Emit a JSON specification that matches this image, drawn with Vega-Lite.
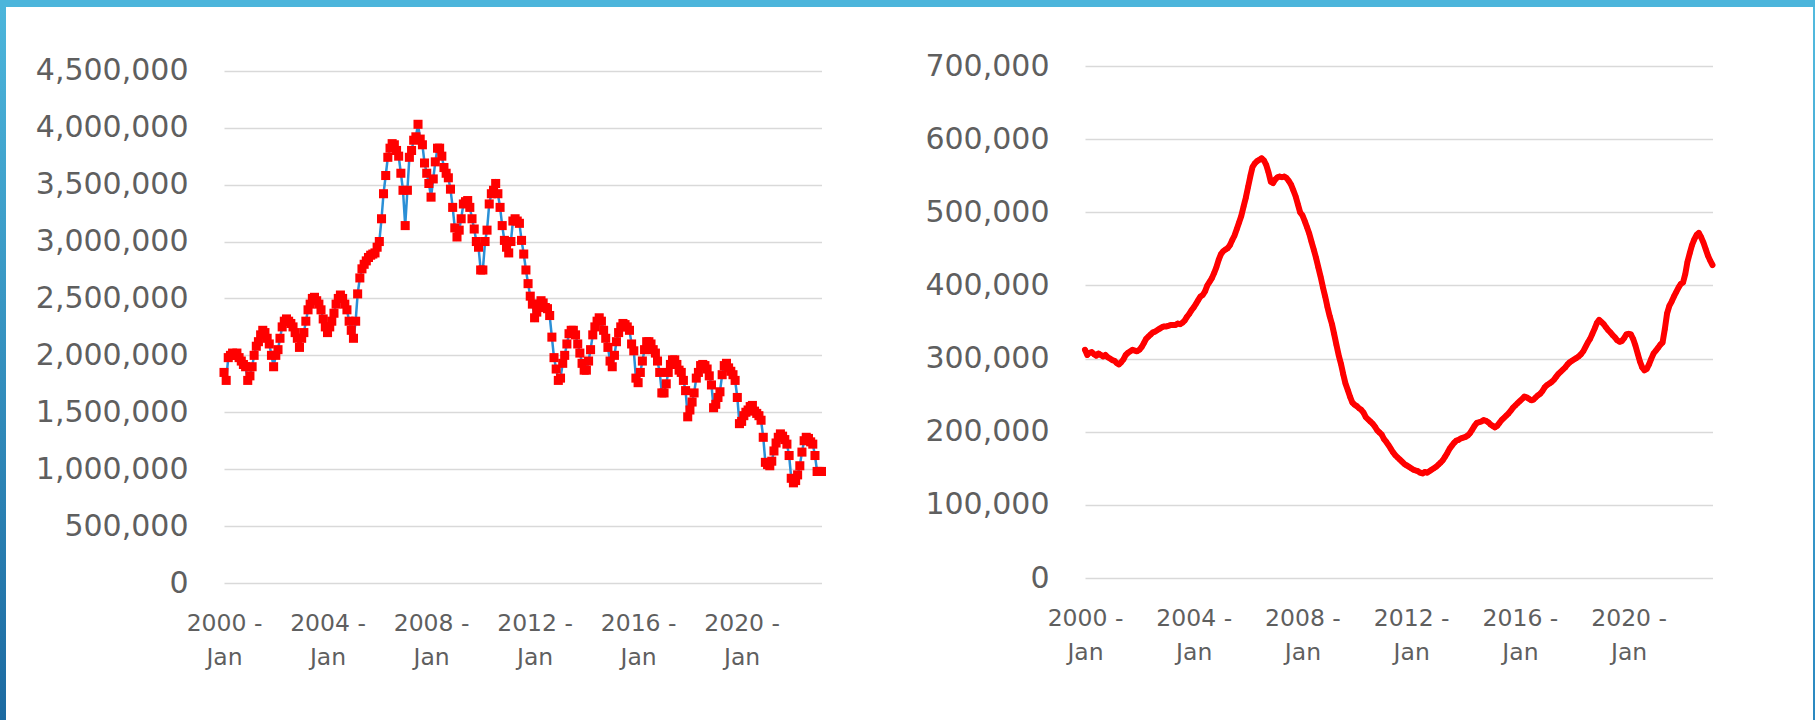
{
  "$schema": "https://vega.github.io/schema/vega-lite/v6.json",
  "padding": 0,
  "background": "white",
  "spacing": 0,
  "config": {
    "view": {"stroke": null},
    "font": "DejaVu Sans",
    "axis": {
      "labelFont": "DejaVu Sans",
      "labelColor": "#5f5f5f",
      "domain": false,
      "ticks": false,
      "title": null
    }
  },
  "datasets": {
    "inventory": [
      {"month":"2000-01","value":1850000},{"month":"2000-02","value":1780000},{"month":"2000-03","value":1980000},{"month":"2000-04","value":2000000},{"month":"2000-05","value":2020000},{"month":"2000-06","value":2000000},{"month":"2000-07","value":2020000},{"month":"2000-08","value":1980000},{"month":"2000-09","value":1950000},{"month":"2000-10","value":1920000},{"month":"2000-11","value":1900000},{"month":"2000-12","value":1780000},
      {"month":"2001-01","value":1820000},{"month":"2001-02","value":1900000},{"month":"2001-03","value":2000000},{"month":"2001-04","value":2080000},{"month":"2001-05","value":2120000},{"month":"2001-06","value":2180000},{"month":"2001-07","value":2220000},{"month":"2001-08","value":2200000},{"month":"2001-09","value":2150000},{"month":"2001-10","value":2100000},{"month":"2001-11","value":2000000},{"month":"2001-12","value":1900000},
      {"month":"2002-01","value":2000000},{"month":"2002-02","value":2050000},{"month":"2002-03","value":2150000},{"month":"2002-04","value":2250000},{"month":"2002-05","value":2300000},{"month":"2002-06","value":2320000},{"month":"2002-07","value":2300000},{"month":"2002-08","value":2280000},{"month":"2002-09","value":2250000},{"month":"2002-10","value":2200000},{"month":"2002-11","value":2150000},{"month":"2002-12","value":2070000},
      {"month":"2003-01","value":2150000},{"month":"2003-02","value":2200000},{"month":"2003-03","value":2300000},{"month":"2003-04","value":2400000},{"month":"2003-05","value":2450000},{"month":"2003-06","value":2500000},{"month":"2003-07","value":2510000},{"month":"2003-08","value":2480000},{"month":"2003-09","value":2450000},{"month":"2003-10","value":2400000},{"month":"2003-11","value":2320000},{"month":"2003-12","value":2250000},
      {"month":"2004-01","value":2200000},{"month":"2004-02","value":2250000},{"month":"2004-03","value":2300000},{"month":"2004-04","value":2370000},{"month":"2004-05","value":2450000},{"month":"2004-06","value":2500000},{"month":"2004-07","value":2530000},{"month":"2004-08","value":2500000},{"month":"2004-09","value":2450000},{"month":"2004-10","value":2400000},{"month":"2004-11","value":2300000},{"month":"2004-12","value":2220000},
      {"month":"2005-01","value":2150000},{"month":"2005-02","value":2300000},{"month":"2005-03","value":2540000},{"month":"2005-04","value":2680000},{"month":"2005-05","value":2760000},{"month":"2005-06","value":2800000},{"month":"2005-07","value":2830000},{"month":"2005-08","value":2860000},{"month":"2005-09","value":2880000},{"month":"2005-10","value":2890000},{"month":"2005-11","value":2900000},{"month":"2005-12","value":2950000},
      {"month":"2006-01","value":3000000},{"month":"2006-02","value":3200000},{"month":"2006-03","value":3420000},{"month":"2006-04","value":3580000},{"month":"2006-05","value":3740000},{"month":"2006-06","value":3820000},{"month":"2006-07","value":3860000},{"month":"2006-08","value":3850000},{"month":"2006-09","value":3800000},{"month":"2006-10","value":3750000},{"month":"2006-11","value":3600000},{"month":"2006-12","value":3450000},
      {"month":"2007-01","value":3140000},{"month":"2007-02","value":3450000},{"month":"2007-03","value":3740000},{"month":"2007-04","value":3800000},{"month":"2007-05","value":3890000},{"month":"2007-06","value":3920000},{"month":"2007-07","value":4030000},{"month":"2007-08","value":3900000},{"month":"2007-09","value":3850000},{"month":"2007-10","value":3690000},{"month":"2007-11","value":3600000},{"month":"2007-12","value":3510000},
      {"month":"2008-01","value":3390000},{"month":"2008-02","value":3550000},{"month":"2008-03","value":3700000},{"month":"2008-04","value":3820000},{"month":"2008-05","value":3820000},{"month":"2008-06","value":3750000},{"month":"2008-07","value":3650000},{"month":"2008-08","value":3600000},{"month":"2008-09","value":3560000},{"month":"2008-10","value":3460000},{"month":"2008-11","value":3300000},{"month":"2008-12","value":3120000},
      {"month":"2009-01","value":3040000},{"month":"2009-02","value":3100000},{"month":"2009-03","value":3200000},{"month":"2009-04","value":3330000},{"month":"2009-05","value":3350000},{"month":"2009-06","value":3360000},{"month":"2009-07","value":3300000},{"month":"2009-08","value":3200000},{"month":"2009-09","value":3110000},{"month":"2009-10","value":3000000},{"month":"2009-11","value":2950000},{"month":"2009-12","value":2750000},
      {"month":"2010-01","value":2750000},{"month":"2010-02","value":3000000},{"month":"2010-03","value":3100000},{"month":"2010-04","value":3330000},{"month":"2010-05","value":3420000},{"month":"2010-06","value":3450000},{"month":"2010-07","value":3510000},{"month":"2010-08","value":3420000},{"month":"2010-09","value":3300000},{"month":"2010-10","value":3140000},{"month":"2010-11","value":3010000},{"month":"2010-12","value":2950000},
      {"month":"2011-01","value":2900000},{"month":"2011-02","value":3000000},{"month":"2011-03","value":3180000},{"month":"2011-04","value":3200000},{"month":"2011-05","value":3180000},{"month":"2011-06","value":3160000},{"month":"2011-07","value":3010000},{"month":"2011-08","value":2890000},{"month":"2011-09","value":2750000},{"month":"2011-10","value":2630000},{"month":"2011-11","value":2520000},{"month":"2011-12","value":2450000},
      {"month":"2012-01","value":2330000},{"month":"2012-02","value":2380000},{"month":"2012-03","value":2450000},{"month":"2012-04","value":2480000},{"month":"2012-05","value":2460000},{"month":"2012-06","value":2420000},{"month":"2012-07","value":2410000},{"month":"2012-08","value":2350000},{"month":"2012-09","value":2160000},{"month":"2012-10","value":1980000},{"month":"2012-11","value":1880000},{"month":"2012-12","value":1780000},
      {"month":"2013-01","value":1800000},{"month":"2013-02","value":1930000},{"month":"2013-03","value":2000000},{"month":"2013-04","value":2100000},{"month":"2013-05","value":2190000},{"month":"2013-06","value":2220000},{"month":"2013-07","value":2220000},{"month":"2013-08","value":2180000},{"month":"2013-09","value":2100000},{"month":"2013-10","value":2020000},{"month":"2013-11","value":1930000},{"month":"2013-12","value":1870000},
      {"month":"2014-01","value":1870000},{"month":"2014-02","value":1950000},{"month":"2014-03","value":2050000},{"month":"2014-04","value":2180000},{"month":"2014-05","value":2250000},{"month":"2014-06","value":2300000},{"month":"2014-07","value":2330000},{"month":"2014-08","value":2300000},{"month":"2014-09","value":2220000},{"month":"2014-10","value":2150000},{"month":"2014-11","value":2070000},{"month":"2014-12","value":1950000},
      {"month":"2015-01","value":1900000},{"month":"2015-02","value":2000000},{"month":"2015-03","value":2120000},{"month":"2015-04","value":2200000},{"month":"2015-05","value":2250000},{"month":"2015-06","value":2280000},{"month":"2015-07","value":2270000},{"month":"2015-08","value":2250000},{"month":"2015-09","value":2220000},{"month":"2015-10","value":2100000},{"month":"2015-11","value":2040000},{"month":"2015-12","value":1800000},
      {"month":"2016-01","value":1760000},{"month":"2016-02","value":1850000},{"month":"2016-03","value":1950000},{"month":"2016-04","value":2050000},{"month":"2016-05","value":2120000},{"month":"2016-06","value":2120000},{"month":"2016-07","value":2100000},{"month":"2016-08","value":2050000},{"month":"2016-09","value":2020000},{"month":"2016-10","value":1950000},{"month":"2016-11","value":1850000},{"month":"2016-12","value":1670000},
      {"month":"2017-01","value":1670000},{"month":"2017-02","value":1750000},{"month":"2017-03","value":1850000},{"month":"2017-04","value":1920000},{"month":"2017-05","value":1960000},{"month":"2017-06","value":1960000},{"month":"2017-07","value":1920000},{"month":"2017-08","value":1870000},{"month":"2017-09","value":1850000},{"month":"2017-10","value":1780000},{"month":"2017-11","value":1690000},{"month":"2017-12","value":1460000},
      {"month":"2018-01","value":1520000},{"month":"2018-02","value":1590000},{"month":"2018-03","value":1670000},{"month":"2018-04","value":1800000},{"month":"2018-05","value":1850000},{"month":"2018-06","value":1910000},{"month":"2018-07","value":1920000},{"month":"2018-08","value":1910000},{"month":"2018-09","value":1880000},{"month":"2018-10","value":1820000},{"month":"2018-11","value":1740000},{"month":"2018-12","value":1540000},
      {"month":"2019-01","value":1570000},{"month":"2019-02","value":1630000},{"month":"2019-03","value":1680000},{"month":"2019-04","value":1830000},{"month":"2019-05","value":1910000},{"month":"2019-06","value":1930000},{"month":"2019-07","value":1890000},{"month":"2019-08","value":1860000},{"month":"2019-09","value":1830000},{"month":"2019-10","value":1780000},{"month":"2019-11","value":1630000},{"month":"2019-12","value":1400000},
      {"month":"2020-01","value":1420000},{"month":"2020-02","value":1470000},{"month":"2020-03","value":1500000},{"month":"2020-04","value":1520000},{"month":"2020-05","value":1550000},{"month":"2020-06","value":1560000},{"month":"2020-07","value":1510000},{"month":"2020-08","value":1490000},{"month":"2020-09","value":1470000},{"month":"2020-10","value":1430000},{"month":"2020-11","value":1280000},{"month":"2020-12","value":1060000},
      {"month":"2021-01","value":1040000},{"month":"2021-02","value":1030000},{"month":"2021-03","value":1070000},{"month":"2021-04","value":1160000},{"month":"2021-05","value":1230000},{"month":"2021-06","value":1280000},{"month":"2021-07","value":1310000},{"month":"2021-08","value":1290000},{"month":"2021-09","value":1260000},{"month":"2021-10","value":1220000},{"month":"2021-11","value":1120000},{"month":"2021-12","value":920000},
      {"month":"2022-01","value":880000},{"month":"2022-02","value":900000},{"month":"2022-03","value":950000},{"month":"2022-04","value":1030000},{"month":"2022-05","value":1150000},{"month":"2022-06","value":1250000},{"month":"2022-07","value":1280000},{"month":"2022-08","value":1270000},{"month":"2022-09","value":1240000},{"month":"2022-10","value":1220000},{"month":"2022-11","value":1120000},{"month":"2022-12","value":980000},
      {"month":"2023-01","value":980000},{"month":"2023-02","value":980000}
    ],
    "forSale": [
      {"month":"2000-01","value":312000},{"month":"2000-02","value":305000},{"month":"2000-03","value":308000},{"month":"2000-04","value":309000},{"month":"2000-05","value":306000},{"month":"2000-06","value":304000},{"month":"2000-07","value":307000},{"month":"2000-08","value":305000},{"month":"2000-09","value":303000},{"month":"2000-10","value":305000},{"month":"2000-11","value":302000},{"month":"2000-12","value":300000},
      {"month":"2001-01","value":298000},{"month":"2001-02","value":297000},{"month":"2001-03","value":294000},{"month":"2001-04","value":292000},{"month":"2001-05","value":295000},{"month":"2001-06","value":299000},{"month":"2001-07","value":305000},{"month":"2001-08","value":308000},{"month":"2001-09","value":310000},{"month":"2001-10","value":312000},{"month":"2001-11","value":311000},{"month":"2001-12","value":310000},
      {"month":"2002-01","value":312000},{"month":"2002-02","value":316000},{"month":"2002-03","value":321000},{"month":"2002-04","value":327000},{"month":"2002-05","value":330000},{"month":"2002-06","value":333000},{"month":"2002-07","value":336000},{"month":"2002-08","value":337000},{"month":"2002-09","value":339000},{"month":"2002-10","value":341000},{"month":"2002-11","value":343000},{"month":"2002-12","value":344000},
      {"month":"2003-01","value":344000},{"month":"2003-02","value":345000},{"month":"2003-03","value":346000},{"month":"2003-04","value":346000},{"month":"2003-05","value":346000},{"month":"2003-06","value":348000},{"month":"2003-07","value":347000},{"month":"2003-08","value":349000},{"month":"2003-09","value":352000},{"month":"2003-10","value":357000},{"month":"2003-11","value":361000},{"month":"2003-12","value":366000},
      {"month":"2004-01","value":370000},{"month":"2004-02","value":375000},{"month":"2004-03","value":380000},{"month":"2004-04","value":385000},{"month":"2004-05","value":387000},{"month":"2004-06","value":392000},{"month":"2004-07","value":400000},{"month":"2004-08","value":405000},{"month":"2004-09","value":410000},{"month":"2004-10","value":417000},{"month":"2004-11","value":425000},{"month":"2004-12","value":435000},
      {"month":"2005-01","value":443000},{"month":"2005-02","value":447000},{"month":"2005-03","value":449000},{"month":"2005-04","value":451000},{"month":"2005-05","value":455000},{"month":"2005-06","value":462000},{"month":"2005-07","value":468000},{"month":"2005-08","value":477000},{"month":"2005-09","value":486000},{"month":"2005-10","value":495000},{"month":"2005-11","value":508000},{"month":"2005-12","value":520000},
      {"month":"2006-01","value":535000},{"month":"2006-02","value":550000},{"month":"2006-03","value":562000},{"month":"2006-04","value":567000},{"month":"2006-05","value":570000},{"month":"2006-06","value":572000},{"month":"2006-07","value":574000},{"month":"2006-08","value":571000},{"month":"2006-09","value":565000},{"month":"2006-10","value":555000},{"month":"2006-11","value":542000},{"month":"2006-12","value":540000},
      {"month":"2007-01","value":545000},{"month":"2007-02","value":548000},{"month":"2007-03","value":549000},{"month":"2007-04","value":548000},{"month":"2007-05","value":549000},{"month":"2007-06","value":547000},{"month":"2007-07","value":543000},{"month":"2007-08","value":538000},{"month":"2007-09","value":530000},{"month":"2007-10","value":522000},{"month":"2007-11","value":511000},{"month":"2007-12","value":500000},
      {"month":"2008-01","value":496000},{"month":"2008-02","value":488000},{"month":"2008-03","value":480000},{"month":"2008-04","value":471000},{"month":"2008-05","value":460000},{"month":"2008-06","value":449000},{"month":"2008-07","value":438000},{"month":"2008-08","value":425000},{"month":"2008-09","value":412000},{"month":"2008-10","value":398000},{"month":"2008-11","value":385000},{"month":"2008-12","value":371000},
      {"month":"2009-01","value":358000},{"month":"2009-02","value":347000},{"month":"2009-03","value":334000},{"month":"2009-04","value":319000},{"month":"2009-05","value":305000},{"month":"2009-06","value":293000},{"month":"2009-07","value":279000},{"month":"2009-08","value":266000},{"month":"2009-09","value":257000},{"month":"2009-10","value":248000},{"month":"2009-11","value":240000},{"month":"2009-12","value":237000},
      {"month":"2010-01","value":235000},{"month":"2010-02","value":232000},{"month":"2010-03","value":230000},{"month":"2010-04","value":226000},{"month":"2010-05","value":220000},{"month":"2010-06","value":217000},{"month":"2010-07","value":214000},{"month":"2010-08","value":211000},{"month":"2010-09","value":207000},{"month":"2010-10","value":202000},{"month":"2010-11","value":199000},{"month":"2010-12","value":196000},
      {"month":"2011-01","value":190000},{"month":"2011-02","value":186000},{"month":"2011-03","value":182000},{"month":"2011-04","value":177000},{"month":"2011-05","value":172000},{"month":"2011-06","value":168000},{"month":"2011-07","value":165000},{"month":"2011-08","value":162000},{"month":"2011-09","value":159000},{"month":"2011-10","value":156000},{"month":"2011-11","value":154000},{"month":"2011-12","value":152000},
      {"month":"2012-01","value":150000},{"month":"2012-02","value":148000},{"month":"2012-03","value":147000},{"month":"2012-04","value":146000},{"month":"2012-05","value":144000},{"month":"2012-06","value":143000},{"month":"2012-07","value":145000},{"month":"2012-08","value":144000},{"month":"2012-09","value":146000},{"month":"2012-10","value":148000},{"month":"2012-11","value":150000},{"month":"2012-12","value":152000},
      {"month":"2013-01","value":155000},{"month":"2013-02","value":158000},{"month":"2013-03","value":161000},{"month":"2013-04","value":166000},{"month":"2013-05","value":171000},{"month":"2013-06","value":177000},{"month":"2013-07","value":181000},{"month":"2013-08","value":185000},{"month":"2013-09","value":188000},{"month":"2013-10","value":189000},{"month":"2013-11","value":191000},{"month":"2013-12","value":192000},
      {"month":"2014-01","value":193000},{"month":"2014-02","value":195000},{"month":"2014-03","value":198000},{"month":"2014-04","value":203000},{"month":"2014-05","value":208000},{"month":"2014-06","value":212000},{"month":"2014-07","value":213000},{"month":"2014-08","value":214000},{"month":"2014-09","value":216000},{"month":"2014-10","value":215000},{"month":"2014-11","value":213000},{"month":"2014-12","value":210000},
      {"month":"2015-01","value":208000},{"month":"2015-02","value":206000},{"month":"2015-03","value":208000},{"month":"2015-04","value":212000},{"month":"2015-05","value":216000},{"month":"2015-06","value":219000},{"month":"2015-07","value":222000},{"month":"2015-08","value":225000},{"month":"2015-09","value":229000},{"month":"2015-10","value":233000},{"month":"2015-11","value":236000},{"month":"2015-12","value":239000},
      {"month":"2016-01","value":242000},{"month":"2016-02","value":245000},{"month":"2016-03","value":248000},{"month":"2016-04","value":247000},{"month":"2016-05","value":245000},{"month":"2016-06","value":243000},{"month":"2016-07","value":244000},{"month":"2016-08","value":247000},{"month":"2016-09","value":250000},{"month":"2016-10","value":252000},{"month":"2016-11","value":256000},{"month":"2016-12","value":261000},
      {"month":"2017-01","value":264000},{"month":"2017-02","value":266000},{"month":"2017-03","value":268000},{"month":"2017-04","value":271000},{"month":"2017-05","value":275000},{"month":"2017-06","value":279000},{"month":"2017-07","value":282000},{"month":"2017-08","value":285000},{"month":"2017-09","value":288000},{"month":"2017-10","value":292000},{"month":"2017-11","value":295000},{"month":"2017-12","value":297000},
      {"month":"2018-01","value":299000},{"month":"2018-02","value":301000},{"month":"2018-03","value":303000},{"month":"2018-04","value":306000},{"month":"2018-05","value":310000},{"month":"2018-06","value":316000},{"month":"2018-07","value":322000},{"month":"2018-08","value":327000},{"month":"2018-09","value":334000},{"month":"2018-10","value":341000},{"month":"2018-11","value":349000},{"month":"2018-12","value":353000},
      {"month":"2019-01","value":350000},{"month":"2019-02","value":347000},{"month":"2019-03","value":343000},{"month":"2019-04","value":339000},{"month":"2019-05","value":336000},{"month":"2019-06","value":332000},{"month":"2019-07","value":329000},{"month":"2019-08","value":325000},{"month":"2019-09","value":323000},{"month":"2019-10","value":324000},{"month":"2019-11","value":328000},{"month":"2019-12","value":333000},
      {"month":"2020-01","value":334000},{"month":"2020-02","value":333000},{"month":"2020-03","value":327000},{"month":"2020-04","value":318000},{"month":"2020-05","value":307000},{"month":"2020-06","value":296000},{"month":"2020-07","value":288000},{"month":"2020-08","value":284000},{"month":"2020-09","value":286000},{"month":"2020-10","value":292000},{"month":"2020-11","value":300000},{"month":"2020-12","value":307000},
      {"month":"2021-01","value":311000},{"month":"2021-02","value":315000},{"month":"2021-03","value":319000},{"month":"2021-04","value":322000},{"month":"2021-05","value":340000},{"month":"2021-06","value":362000},{"month":"2021-07","value":372000},{"month":"2021-08","value":378000},{"month":"2021-09","value":385000},{"month":"2021-10","value":391000},{"month":"2021-11","value":397000},{"month":"2021-12","value":402000},
      {"month":"2022-01","value":404000},{"month":"2022-02","value":416000},{"month":"2022-03","value":432000},{"month":"2022-04","value":444000},{"month":"2022-05","value":455000},{"month":"2022-06","value":463000},{"month":"2022-07","value":469000},{"month":"2022-08","value":472000},{"month":"2022-09","value":466000},{"month":"2022-10","value":459000},{"month":"2022-11","value":450000},{"month":"2022-12","value":441000},
      {"month":"2023-01","value":434000},{"month":"2023-02","value":428000}
    ]
  },
  "vconcat": [
    {
      "width": 1815,
      "height": 7,
      "view": {"fill": "#4cb5db", "stroke": null},
      "data": {"values": []},
      "mark": "rect",
      "encoding": {}
    },
    {
      "spacing": 0,
      "hconcat": [
        {
          "width": 6,
          "height": 713,
          "data": {"values": [{}]},
          "mark": {
            "type": "rect",
            "color": {"gradient": "linear", "x1": 0, "y1": 0, "x2": 0, "y2": 1,
              "stops": [{"offset": 0, "color": "#4cb5db"}, {"offset": 1, "color": "#1c6aa1"}]}
          },
          "encoding": {
            "x": {"datum": 0, "type": "quantitative", "scale": {"domain": [0, 1]}, "axis": null},
            "x2": {"datum": 1},
            "y": {"datum": 0, "type": "quantitative", "scale": {"domain": [0, 1]}, "axis": null},
            "y2": {"datum": 1}
          }
        },
        {
          "width": 597.5,
          "height": 576,
          "data": {"name": "inventory"},
          "encoding": {
            "x": {
              "field": "month", "type": "temporal",
              "scale": {"type": "utc", "domain": [{"year": 2000, "month": 1, "date": 1, "utc": true}, {"year": 2023, "month": 2, "date": 1, "utc": true}]},
              "axis": {
                "values": [
                  {"year": 2000, "month": 1, "date": 1, "utc": true},
                  {"year": 2004, "month": 1, "date": 1, "utc": true},
                  {"year": 2008, "month": 1, "date": 1, "utc": true},
                  {"year": 2012, "month": 1, "date": 1, "utc": true},
                  {"year": 2016, "month": 1, "date": 1, "utc": true},
                  {"year": 2020, "month": 1, "date": 1, "utc": true}
                ],
                "labelExpr": "[utcFormat(datum.value, '%Y') + ' -', 'Jan']",
                "grid": false, "labelFlush": false, "labelOverlap": false, "labelBound": false,
                "labelAngle": 0, "labelAlign": "center", "labelBaseline": "top",
                "labelFontSize": 23.5, "labelLineHeight": 34, "labelPadding": 28.5
              }
            },
            "y": {
              "field": "value", "type": "quantitative",
              "scale": {"domain": [0, 5060500], "nice": false, "zero": true},
              "axis": {
                "values": [0, 500000, 1000000, 1500000, 2000000, 2500000, 3000000, 3500000, 4000000, 4500000],
                "format": ",.0f", "grid": true, "gridColor": "#d9d9d9", "gridWidth": 1.5,
                "labelFontSize": 30, "labelPadding": 36, "labelOverlap": false,
                "minExtent": 218, "maxExtent": 218
              }
            }
          },
          "layer": [
            {"mark": {"type": "line", "color": "#2a8fd6", "strokeWidth": 2.5}},
            {"mark": {"type": "point", "shape": "square", "filled": true, "color": "#ff0000", "opacity": 1, "size": 82}}
          ]
        },
        {
          "width": 627.5,
          "height": 571,
          "data": {"name": "forSale"},
          "encoding": {
            "x": {
              "field": "month", "type": "temporal",
              "scale": {"type": "utc", "domain": [{"year": 2000, "month": 1, "date": 1, "utc": true}, {"year": 2023, "month": 2, "date": 1, "utc": true}]},
              "axis": {
                "values": [
                  {"year": 2000, "month": 1, "date": 1, "utc": true},
                  {"year": 2004, "month": 1, "date": 1, "utc": true},
                  {"year": 2008, "month": 1, "date": 1, "utc": true},
                  {"year": 2012, "month": 1, "date": 1, "utc": true},
                  {"year": 2016, "month": 1, "date": 1, "utc": true},
                  {"year": 2020, "month": 1, "date": 1, "utc": true}
                ],
                "labelExpr": "[utcFormat(datum.value, '%Y') + ' -', 'Jan']",
                "grid": false, "labelFlush": false, "labelOverlap": false, "labelBound": false,
                "labelAngle": 0, "labelAlign": "center", "labelBaseline": "top",
                "labelFontSize": 23.5, "labelLineHeight": 34, "labelPadding": 28.5
              }
            },
            "y": {
              "field": "value", "type": "quantitative",
              "scale": {"domain": [0, 780800], "nice": false, "zero": true},
              "axis": {
                "values": [0, 100000, 200000, 300000, 400000, 500000, 600000, 700000],
                "format": ",.0f", "grid": true, "gridColor": "#d9d9d9", "gridWidth": 1.5,
                "labelFontSize": 30, "labelPadding": 36, "labelOverlap": false,
                "minExtent": 257.5, "maxExtent": 257.5
              }
            }
          },
          "layer": [
            {"mark": {"type": "line", "color": "#ff0000", "strokeWidth": 6, "strokeJoin": "round", "strokeCap": "round"}},
            {"mark": {"type": "point", "shape": "circle", "filled": true, "color": "#ff0000", "opacity": 1, "size": 28}}
          ]
        },
        {
          "width": 4,
          "height": 713,
          "title": {"text": " ", "fontSize": 1, "orient": "left", "offset": 96},
          "data": {"values": [{}]},
          "mark": {
            "type": "rect",
            "color": {"gradient": "linear", "x1": 0, "y1": 0, "x2": 0, "y2": 1,
              "stops": [{"offset": 0, "color": "#52bade"}, {"offset": 1, "color": "#2a88c0"}]}
          },
          "encoding": {
            "x": {"datum": 0, "type": "quantitative", "scale": {"domain": [0, 1]}, "axis": null},
            "x2": {"datum": 1},
            "y": {"datum": 0, "type": "quantitative", "scale": {"domain": [0, 1]}, "axis": null},
            "y2": {"datum": 1}
          }
        }
      ]
    }
  ]
}
